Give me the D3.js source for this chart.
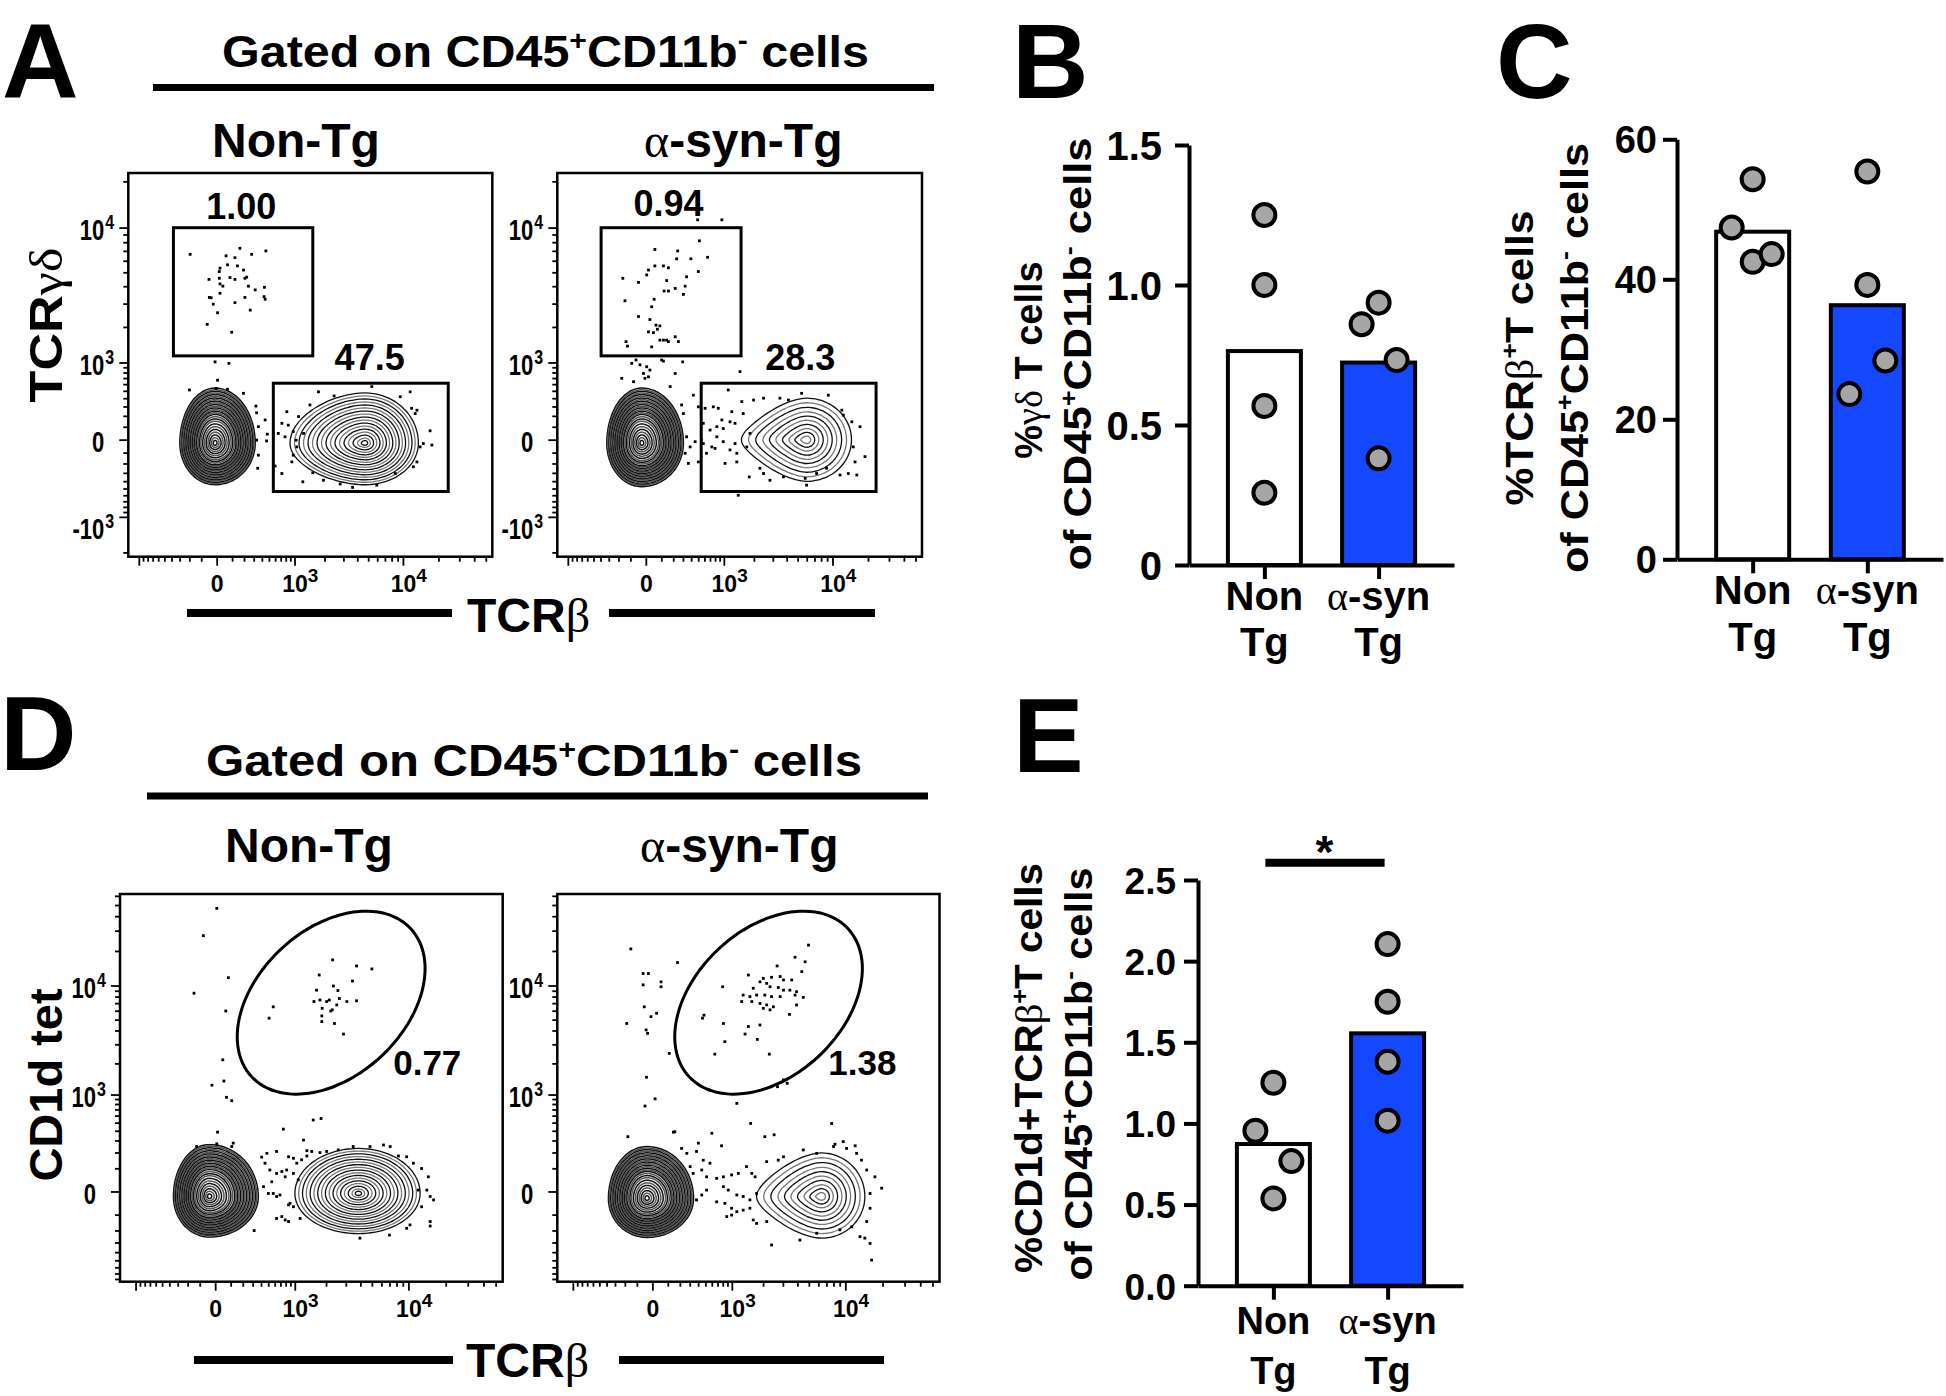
<!DOCTYPE html>
<html><head><meta charset="utf-8">
<script src="https://cdn.jsdelivr.net/npm/d3@7"></script>
<style>body{margin:0;background:#fff} svg{display:block}</style>
</head><body>
<svg id="fig" width="1946" height="1396"></svg>
<script>
// ================= DATA =================
const groupNames = ["Non-Tg", "α-syn-Tg"];

// Panel B : %γδ T cells of CD45+CD11b- cells
const bMeans = [0.764, 0.723];
const bNonTg = [1.25, 1.00, 0.568, 0.258];
const bAsyn  = [0.937, 0.860, 0.732, 0.381];
const bTicks = [0, 0.5, 1.0, 1.5];
const bTickLabels = ["0", "0.5", "1.0", "1.5"];

// Panel C : %TCRβ+ T cells of CD45+CD11b- cells
const cMeans = [46.8, 36.3];
const cNonTg = [54.3, 47.4, 42.5, 43.6];
const cAsyn  = [55.4, 39.2, 28.4, 23.6];
const cTicks = [0, 20, 40, 60];
const cTickLabels = ["0", "20", "40", "60"];

// Panel E : %CD1d+TCRβ+ T cells of CD45+CD11b- cells
const eMeans = [0.873, 1.555];
const eNonTg = [1.251, 0.955, 0.768, 0.538];
const eAsyn  = [2.105, 1.750, 1.380, 1.017];
const eTicks = [0, 0.5, 1.0, 1.5, 2.0, 2.5];
const eTickLabels = ["0.0", "0.5", "1.0", "1.5", "2.0", "2.5"];
const eSignif = "*";

// Flow plots (display channel units 0-1024 on both axes)
const aXTickCh = [250, 469, 774];
const aYTickCh = [79, 311, 517, 877];
const dXTickCh = [256, 469, 773];
const dYTickCh = [237, 493, 781];
const xTickBase = ["0", "10", "10"], xTickSup = ["", "3", "4"];
const aYTickBase = ["-10", "0", "10", "10"], aYTickSup = ["3", "", "3", "4"];
const dYTickBase = ["0", "10", "10"], dYTickSup = ["", "3", "4"];

const aGatePct = [["1.00", "47.5"], ["0.94", "28.3"]];
const dGatePct = ["0.77", "1.38"];

// gates: rectangles [x0,x1,y0,y1] ; label anchor [x,y]
const aGdGate   = [[127, 519, 536, 878], [123, 516, 536, 878]];
const aGdLabel  = [[318, 901], [312, 909]];
const aTcrGate  = [[408, 900, 174, 463], [404, 895, 174, 463]];
const aTcrLabel = [[679, 498], [682, 498]];
// ellipse gates: [cx, cy, a, b, angleDeg]
const dNktGate  = [[565, 737, 289, 195, 42], [566, 737, 289, 195, 42]];
const dNktLabel = [[731, 546], [726, 546]];

// contour populations [cx, cy, rLeft, rRight, rTop, rBottom, taper]
const denseLevels  = [1, .97, .94, .91, .88, .85, .82, .79, .76, .73, .70, .67, .64, .61, .58, .55, .52, .48, .44, .40, .35, .30, .25, .20, .15, .10, .05];
const evenLevels   = [1, .94, .88, .82, .76, .70, .64, .58, .52, .46, .40, .34, .28, .22, .16, .10, .05];
const sparseLevels = [1, .89, .78, .67, .57, .47, .37, .27, .18, .09];
const a1Pops = [[244, 303, 99, 113, 147, 111, 0], [666, 303, 211, 150, 134, 111, 0.12]];
const a2Pops = [[237, 303, 98, 117, 147, 116, 0], [700, 312, 183, 126, 111, 111, 0.45]];
const d1Pops = [[239, 225, 96, 131, 137, 107, 0], [638, 233, 170, 165, 119, 106, 0]];
const d2Pops = [[240, 220, 103, 125, 137, 103, 0], [708, 225, 174, 116, 115, 110, 0.4]];
const a1Levels = [denseLevels, evenLevels];
const a2Levels = [denseLevels, sparseLevels];
const d1Levels = [denseLevels, evenLevels];
const d2Levels = [denseLevels, sparseLevels];

// events outside contours [TCRβ channel, y channel]
const a1Dots = [[174,807],[314,823],[275,803],[300,798],[347,807],[387,816],[279,779],[258,770],[256,761],[307,776],[324,765],[227,740],[256,743],[286,745],[300,740],[328,743],[333,746],[258,728],[266,722],[338,722],[357,712],[383,719],[258,703],[228,692],[233,691],[328,692],[382,694],[385,687],[239,674],[300,678],[343,658],[251,651],[222,620],[291,599],
[244,520],[283,516],[251,471],[172,445],[247,449],[279,447],[324,436],[359,402],[361,384],[385,365],[366,347],[391,327],[361,311],[389,309],[366,271],[364,236],[446,387],[432,356],[422,329],[441,320],[464,334],[472,311],[493,329],[474,293],[464,271],[460,253],[432,222],[491,200],[519,224],[549,204],[596,194],[631,185],[699,191],[751,222],[802,240],[821,293],[830,302],[854,298],[849,336],[812,391],[797,396],[765,427],[793,440],[685,454],[579,429],[535,440],[511,405],[479,374],[450,351],[812,253],[807,382],[413,242]];
const a2Dots = [[394,899],[462,899],[399,843],[274,820],[338,816],[375,795],[422,799],[256,765],[274,776],[298,776],[312,771],[335,795],[396,761],[184,743],[228,732],[251,752],[307,737],[363,747],[359,722],[331,716],[300,709],[312,709],[354,700],[190,683],[272,687],[228,641],[260,633],[265,667],[277,618],[288,616],[281,607],[256,600],[270,598],[288,578],[298,578],[312,574],[331,587],[340,574],[193,574],[197,562],[265,560],[307,578],
[221,525],[232,512],[251,507],[209,516],[260,498],[293,525],[256,480],[242,489],[298,522],[352,520],[331,489],[181,476],[214,467],[246,476],[513,494],[317,454],
[382,431],[396,400],[415,396],[410,356],[405,311],[363,320],[373,293],[387,307],[359,276],[368,249],[354,382],[349,405],[438,400],[452,396],[462,365],[448,347],[466,342],[485,360],[499,356],[490,387],[522,382],[448,320],[434,293],[443,289],[466,307],[485,285],[499,302],[504,276],[504,253],[471,249],[539,213],[569,236],[579,222],[597,204],[635,213],[696,209],[700,191],[728,222],[756,236],[794,218],[817,222],[841,218],[864,267],[836,253],[831,293],[850,347],[827,360],[803,378],[799,391],[761,431],[686,436],[649,418],[625,423],[579,423],[551,418],[518,414],[480,445],[508,164],[410,302],[541,329],[532,293],[419,276],[429,338],[396,253]];
const d1Dots = [[569,850],[633,834],[674,826],[533,810],[622,794],[526,770],[571,781],[583,769],[535,744],[553,740],[560,744],[587,748],[607,740],[633,742],[519,740],[410,726],[541,722],[568,718],[580,731],[540,702],[399,696],[540,687],[574,682],[598,654],[564,715],
[259,986],[223,914],[290,803],[198,762],[283,715],[275,586],[246,519],[278,530],[285,487],[299,478],[517,427],[538,431],[437,403],[261,395],[491,374],[303,366],[299,357],[205,357],[259,364],
[379,329],[393,339],[419,344],[451,330],[464,326],[473,313],[486,322],[500,346],[513,344],[500,332],[388,313],[401,295],[419,286],[433,291],[442,277],[446,295],[464,286],[477,269],[406,264],[384,251],[397,233],[410,233],[419,225],[428,229],[451,203],[464,198],[455,207],[433,172],[419,167],[442,163],[451,159],[482,167],[359,135],[642,115],[721,123],[767,141],[830,147],[830,159],[839,216],[830,225],[821,242],[825,277],[807,299],[785,313],[767,330],[745,332],[723,357],[705,361],[669,357],[624,357],[584,348],[553,344],[535,341],[798,242],[807,198],[776,150]];
const d2Dots = [[673,889],[637,857],[664,845],[589,834],[655,819],[512,810],[552,801],[574,804],[597,806],[606,797],[628,797],[543,792],[561,788],[525,775],[570,779],[592,777],[606,770],[623,770],[641,766],[498,757],[516,753],[534,757],[556,757],[574,753],[597,753],[637,757],[659,751],[494,740],[521,740],[543,735],[561,731],[579,726],[552,722],[570,718],[641,731],[622,706],[443,779],[393,704],[389,696],[445,682],[512,674],[543,678],[503,654],[536,640],[449,634],[422,601],[568,601],[606,533],[616,524],[590,515],
[197,879],[322,843],[230,814],[244,814],[230,784],[278,792],[278,779],[233,726],[251,700],[266,709],[238,665],[242,656],[186,682],[300,603],[239,540],[262,483],[235,464],[481,471],[518,418],[735,418],[414,392],[440,359],[311,395],[556,383],[581,388],[744,363],[766,370],[798,359],[189,383],
[333,352],[347,339],[378,366],[373,344],[391,321],[409,313],[387,295],[364,286],[356,304],[400,277],[427,273],[445,277],[467,282],[485,286],[507,304],[521,286],[530,277],[445,251],[458,242],[481,229],[498,225],[516,216],[534,233],[400,242],[387,229],[373,216],[427,211],[449,207],[467,194],[481,185],[498,189],[516,194],[454,172],[467,176],[525,163],[534,154],[561,159],[592,321],[561,317],[606,330],[659,348],[695,339],[740,357],[775,352],[802,339],[815,321],[829,295],[851,277],[869,247],[838,233],[838,194],[829,159],[824,115],[838,101],[842,57],[574,97],[650,110],[695,128],[757,137],[789,145],[811,119],[315,396]];

// ================= DRAWING =================
const SANS = "'Liberation Sans', Arial, Helvetica, sans-serif";
const SERIF = "'Liberation Serif', 'DejaVu Serif', 'Times New Roman', serif";
const BLUE = "#1448ff";
const svg = d3.select("#fig");
svg.append("rect").attr("width", 1946).attr("height", 1396).attr("fill", "#fff");

function addText(g, x, y, parts, o) {
  const size = o.size;
  const t = g.append("text").attr("x", x).attr("y", y)
    .attr("font-family", SANS).attr("font-weight", "bold").attr("font-size", size)
    .attr("text-anchor", o.anchor || "start").attr("fill", "#000");
  if (o.rotate) t.attr("transform", `rotate(-90 ${x} ${y})`);
  if (o.len) t.attr("textLength", o.len).attr("lengthAdjust", "spacingAndGlyphs");
  let cur = 0;
  parts.forEach(p => {
    if (typeof p === "string") p = { t: p };
    const ts = t.append("tspan").text(p.t);
    const target = p.sup ? -size * 0.38 : 0;
    if (target !== cur) { ts.attr("dy", target - cur); cur = target; }
    if (p.sup) ts.attr("font-size", size * 0.62);
    if (p.greek) ts.attr("font-family", SERIF).attr("font-weight", "normal");
  });
  return t;
}

// ---------- panel letters ----------
[["A", 2, 98], ["B", 1012, 98], ["C", 1496, 98], ["D", 0, 770], ["E", 1013, 772]].forEach(d =>
  addText(svg, d[1], d[2], [d[0]], { size: 106 }));

// ---------- titles over flow plots ----------
const titleParts = ["Gated on CD45", { t: "+", sup: true }, "CD11b", { t: "-", sup: true }, " cells"];
addText(svg, 222, 67, titleParts, { size: 44, len: 647 });
svg.append("line").attr("x1", 153).attr("x2", 934).attr("y1", 87.5).attr("y2", 87.5).attr("stroke", "#000").attr("stroke-width", 7);
addText(svg, 206, 776, titleParts, { size: 44, len: 656 });
svg.append("line").attr("x1", 147).attr("x2", 928).attr("y1", 796).attr("y2", 796).attr("stroke", "#000").attr("stroke-width", 7);

const nonTgParts = ["Non-Tg"];
const asynParts = [{ t: "α", greek: true }, "-syn-Tg"];
addText(svg, 212, 157, nonTgParts, { size: 48 });
addText(svg, 644, 157, asynParts, { size: 48 });
addText(svg, 225, 862, nonTgParts, { size: 48 });
addText(svg, 640, 862, asynParts, { size: 48 });

// axis titles for flow plots
addText(svg, 62, 325, ["TCR", { t: "γδ", greek: true }], { size: 46, anchor: "middle", rotate: true, len: 155 });
addText(svg, 62, 1085, ["CD1d tet"], { size: 47, anchor: "middle", rotate: true });
function betaTitle(xt, yb, l1, l2, r1, r2, ly) {
  addText(svg, xt, yb, ["TCR", { t: "β", greek: true }], { size: 48 });
  svg.append("line").attr("x1", l1).attr("x2", l2).attr("y1", ly).attr("y2", ly).attr("stroke", "#000").attr("stroke-width", 8);
  svg.append("line").attr("x1", r1).attr("x2", r2).attr("y1", ly).attr("y2", ly).attr("stroke", "#000").attr("stroke-width", 8);
}
betaTitle(467, 632, 187, 452, 609, 875, 613);
betaTitle(466, 1377, 194, 453, 619, 884, 1360);

// ---------- flow plot ----------
function biexTicks(ch0, ch3, ch4) {
  const r = (ch4 - ch0) / (ch3 - ch0);
  let lo = 1, hi = 1e6;
  for (let i = 0; i < 80; i++) {
    const c = Math.sqrt(lo * hi);
    const f = Math.log1p(1e4 / c) / Math.log1p(1e3 / c);
    if (f > r) hi = c; else lo = c;
  }
  const c = Math.sqrt(lo * hi);
  const k = (ch3 - ch0) / Math.log1p(1e3 / c);
  const fn = v => ch0 + Math.sign(v) * k * Math.log1p(Math.abs(v) / c);
  const out = [{ ch: ch0, major: true }];
  [100, 1000, 10000, 100000].forEach(dec => {
    for (let m = 1; m < 10; m++) {
      [m * dec, -m * dec].forEach(v => out.push({ ch: fn(v), major: (m === 1 && dec >= 1000) }));
    }
  });
  return out.filter(d => d.ch >= 3 && d.ch <= 1021);
}

function ringPath(p, s, x, y) {
  const [cx, cy, rl, rr, rt, rb, taper] = p;
  const pts = d3.range(80).map(i => {
    const t = i / 80 * 2 * Math.PI;
    const c = Math.cos(t), sn = Math.sin(t);
    const dx = c * (c < 0 ? rl : rr) * s;
    let dy = sn * (sn > 0 ? rt : rb) * s;
    if (taper && c < 0) dy *= (1 - taper * Math.pow(-c, 1.6));
    return [x(cx + dx), y(cy + dy)];
  });
  return d3.line().curve(d3.curveCardinalClosed)(pts);
}

function flowPlot(cfg) {
  const g = svg.append("g");
  const x = d3.scaleLinear().domain([0, 1024]).range([cfg.x0, cfg.x1]);
  const y = d3.scaleLinear().domain([0, 1024]).range([cfg.y1, cfg.y0]);
  // contours
  cfg.pops.forEach((p, pi) => {
    const dense = cfg.levels[pi] === denseLevels;
    cfg.levels[pi].forEach((s, i) => {
      g.append("path").attr("d", ringPath(p, s, x, y)).attr("fill", "none")
        .attr("stroke", i % 2 ? (dense ? "#555" : "#777") : "#111").attr("stroke-width", dense ? 1.5 : 1.3);
    });
  });
  // outlier events
  g.selectAll(null).data(cfg.dots).join("rect")
    .attr("x", d => x(d[0]) - 1.4).attr("y", d => y(d[1]) - 1.4)
    .attr("width", 2.8).attr("height", 2.8).attr("fill", "#000");
  // gates
  (cfg.rectGates || []).forEach((gt, i) => {
    g.append("rect").attr("x", x(gt[0])).attr("y", y(gt[3]))
      .attr("width", x(gt[1]) - x(gt[0])).attr("height", y(gt[2]) - y(gt[3]))
      .attr("fill", "none").attr("stroke", "#000").attr("stroke-width", 3);
    addText(g, x(cfg.rectLabels[i][0]), y(cfg.rectLabels[i][1]), [cfg.rectPct[i]], { size: 36, anchor: "middle" });
  });
  (cfg.ellGates || []).forEach((gt, i) => {
    const [cx, cy, a, b, ang] = gt;
    const th = ang * Math.PI / 180;
    const pts = d3.range(100).map(k => {
      const t = k / 100 * 2 * Math.PI;
      return [x(cx + a * Math.cos(t) * Math.cos(th) - b * Math.sin(t) * Math.sin(th)),
              y(cy + a * Math.cos(t) * Math.sin(th) + b * Math.sin(t) * Math.cos(th))];
    });
    g.append("path").attr("d", d3.line().curve(d3.curveCardinalClosed)(pts))
      .attr("fill", "none").attr("stroke", "#000").attr("stroke-width", 3);
    addText(g, x(cfg.ellLabels[i][0]), y(cfg.ellLabels[i][1]), [cfg.ellPct[i]], { size: 35 });
  });
  // frame
  g.append("rect").attr("x", cfg.x0).attr("y", cfg.y0).attr("width", cfg.x1 - cfg.x0).attr("height", cfg.y1 - cfg.y0)
    .attr("fill", "none").attr("stroke", "#000").attr("stroke-width", 2.5);
  // minor/major ticks
  biexTicks(cfg.xt[0], cfg.xt[1], cfg.xt[2]).forEach(t => {
    g.append("line").attr("x1", x(t.ch)).attr("x2", x(t.ch)).attr("y1", cfg.y1).attr("y2", cfg.y1 + (t.major ? 9 : 5))
      .attr("stroke", "#000").attr("stroke-width", 1.8);
  });
  const yt = cfg.yt.length === 4 ? cfg.yt.slice(1) : cfg.yt;
  biexTicks(yt[0], yt[1], yt[2]).forEach(t => {
    g.append("line").attr("y1", y(t.ch)).attr("y2", y(t.ch)).attr("x1", cfg.x0).attr("x2", cfg.x0 - (t.major ? 9 : 5))
      .attr("stroke", "#000").attr("stroke-width", 1.8);
  });
  // x tick labels
  cfg.xt.forEach((ch, i) => {
    const px = x(ch);
    const t = g.append("text").attr("x", px).attr("y", cfg.y1 + 35).attr("text-anchor", "middle")
      .attr("font-family", SANS).attr("font-weight", "bold").attr("font-size", 23).text(xTickBase[i]);
    if (xTickSup[i]) {
      const w = t.node().getComputedTextLength();
      g.append("text").attr("x", px + w / 2).attr("y", cfg.y1 + 25)
        .attr("font-family", SANS).attr("font-weight", "bold").attr("font-size", 19).text(xTickSup[i]);
    }
  });
  // y tick labels
  cfg.yt.forEach((ch, i) => {
    const py = y(ch);
    g.append("text").attr("transform", `translate(${cfg.x0 - 24},${py + 12}) scale(0.76,1)`)
      .attr("text-anchor", "end").attr("font-family", SANS).attr("font-weight", "bold").attr("font-size", 29)
      .text(cfg.ytBase[i]);
    if (cfg.ytSup[i]) {
      g.append("text").attr("transform", `translate(${cfg.x0 - 23},${py + 1}) scale(0.76,1)`)
        .attr("font-family", SANS).attr("font-weight", "bold").attr("font-size", 21).text(cfg.ytSup[i]);
    }
  });
}

flowPlot({ x0: 128.3, x1: 492.3, y0: 173, y1: 556.7, pops: a1Pops, levels: a1Levels, dots: a1Dots,
  rectGates: [aGdGate[0], aTcrGate[0]], rectLabels: [aGdLabel[0], aTcrLabel[0]], rectPct: aGatePct[0],
  xt: aXTickCh, yt: aYTickCh, ytBase: aYTickBase, ytSup: aYTickSup });
flowPlot({ x0: 557.3, x1: 922, y0: 173, y1: 556.7, pops: a2Pops, levels: a2Levels, dots: a2Dots,
  rectGates: [aGdGate[1], aTcrGate[1]], rectLabels: [aGdLabel[1], aTcrLabel[1]], rectPct: aGatePct[1],
  xt: aXTickCh, yt: aYTickCh, ytBase: aYTickBase, ytSup: aYTickSup });
flowPlot({ x0: 120, x1: 502.7, y0: 894, y1: 1281.7, pops: d1Pops, levels: d1Levels, dots: d1Dots,
  ellGates: [dNktGate[0]], ellLabels: [dNktLabel[0]], ellPct: [dGatePct[0]],
  xt: dXTickCh, yt: dYTickCh, ytBase: dYTickBase, ytSup: dYTickSup });
flowPlot({ x0: 557.3, x1: 939.5, y0: 894, y1: 1281.7, pops: d2Pops, levels: d2Levels, dots: d2Dots,
  ellGates: [dNktGate[1]], ellLabels: [dNktLabel[1]], ellPct: [dGatePct[1]],
  xt: dXTickCh, yt: dYTickCh, ytBase: dYTickBase, ytSup: dYTickSup });

// ---------- bar charts ----------
const catLine1 = [["Non"], [{ t: "α", greek: true }, "-syn"]];
const catLine2 = ["Tg", "Tg"];
const jitterB = [[0, 0, 0, 0], [0, -17, 18, 0]];
const jitterC = [[0, -21, 0, 19], [0, 0, 18, -18]];
const jitterE = [[0, -18, 18, 0], [0, 0, 0, 0]];

function barPanel(cfg) {
  const g = svg.append("g");
  const y = d3.scaleLinear().domain([cfg.ticks[0], cfg.ticks[cfg.ticks.length - 1]]).range([cfg.y0, cfg.y1]);
  const x = d3.scalePoint().domain(groupNames).range([cfg.ax, cfg.axEnd]).padding(0.66);
  g.selectAll(null).data(cfg.means).join("rect")
    .attr("x", (d, i) => x(groupNames[i]) - cfg.bw / 2).attr("width", cfg.bw)
    .attr("y", d => y(d)).attr("height", d => y(0) - y(d))
    .attr("fill", (d, i) => i === 0 ? "#fff" : BLUE).attr("stroke", "#000").attr("stroke-width", 4);
  const ya = g.append("g").attr("transform", `translate(${cfg.ax},0)`)
    .call(d3.axisLeft(y).tickValues(cfg.ticks).tickFormat((d, i) => cfg.tickLabels[i])
      .tickSize(14).tickSizeOuter(0).tickPadding(cfg.pad));
  ya.select(".domain").attr("stroke-width", 4);
  ya.selectAll(".tick line").attr("stroke-width", 4);
  ya.selectAll(".tick text").attr("font-family", SANS).attr("font-weight", "bold")
    .attr("font-size", cfg.tickFont).attr("fill", "#000").attr("dy", "0.36em");
  const xa = g.append("g").attr("transform", `translate(0,${y(0)})`)
    .call(d3.axisBottom(x).tickSize(14).tickSizeOuter(0).tickFormat(""));
  xa.select(".domain").attr("stroke-width", 4);
  xa.selectAll(".tick line").attr("stroke-width", 4);
  [cfg.non, cfg.asyn].forEach((vals, i) => {
    g.selectAll(null).data(vals).join("circle")
      .attr("cx", (d, j) => x(groupNames[i]) + cfg.jitter[i][j]).attr("cy", d => y(d)).attr("r", 11)
      .attr("fill", "#a6a6a6").attr("stroke", "#000").attr("stroke-width", 4);
  });
  groupNames.forEach((n, i) => {
    addText(g, x(n), cfg.l1y, catLine1[i], { size: cfg.catFont, anchor: "middle" });
    addText(g, x(n), cfg.l2y, [catLine2[i]], { size: cfg.catFont, anchor: "middle" });
  });
  addText(g, cfg.t1x, cfg.t1cy, cfg.title1, { size: cfg.titleFont, anchor: "middle", rotate: true, len: cfg.t1len });
  addText(g, cfg.t2x, cfg.t2cy, cfg.title2, { size: cfg.titleFont, anchor: "middle", rotate: true, len: cfg.t2len });
  return { g, x, y };
}

const ofParts = ["of CD45", { t: "+", sup: true }, "CD11b", { t: "-", sup: true }, " cells"];

barPanel({ means: bMeans, non: bNonTg, asyn: bAsyn, ticks: bTicks, tickLabels: bTickLabels, jitter: jitterB,
  y0: 565, y1: 145, ax: 1189, axEnd: 1454, bw: 73, pad: 13, tickFont: 40, catFont: 40, l1y: 610, l2y: 656,
  title1: ["%", { t: "γδ", greek: true }, " T cells"], title2: ofParts, titleFont: 38,
  t1x: 1042, t2x: 1091, t1cy: 360, t2cy: 354, t1len: null, t2len: 433 });

barPanel({ means: cMeans, non: cNonTg, asyn: cAsyn, ticks: cTicks, tickLabels: cTickLabels, jitter: jitterC,
  y0: 559.3, y1: 139.3, ax: 1677, axEnd: 1943, bw: 73, pad: 6, tickFont: 38, catFont: 40, l1y: 604, l2y: 651,
  title1: ["%TCR", { t: "β", greek: true }, { t: "+", sup: true }, "T cells"], title2: ofParts, titleFont: 39,
  t1x: 1533, t2x: 1588, t1cy: 358, t2cy: 358, t1len: 295, t2len: 430 });

const eRes = barPanel({ means: eMeans, non: eNonTg, asyn: eAsyn, ticks: eTicks, tickLabels: eTickLabels, jitter: jitterE,
  y0: 1285.7, y1: 880, ax: 1198, axEnd: 1463, bw: 73, pad: 8, tickFont: 37, catFont: 38, l1y: 1334, l2y: 1384,
  title1: ["%CD1d+TCR", { t: "β", greek: true }, { t: "+", sup: true }, "T cells"], title2: ofParts, titleFont: 38,
  t1x: 1042, t2x: 1092, t1cy: 1068, t2cy: 1074, t1len: 410, t2len: 413 });

// significance bracket
{
  const x = eRes.x;
  eRes.g.append("line").attr("x1", x(groupNames[0]) - 8).attr("x2", x(groupNames[1]) - 3)
    .attr("y1", 862.7).attr("y2", 862.7).attr("stroke", "#000").attr("stroke-width", 8);
  addText(eRes.g, (x(groupNames[0]) + x(groupNames[1])) / 2 - 6, 868, [eSignif], { size: 46, anchor: "middle" });
}
</script>
</body></html>
